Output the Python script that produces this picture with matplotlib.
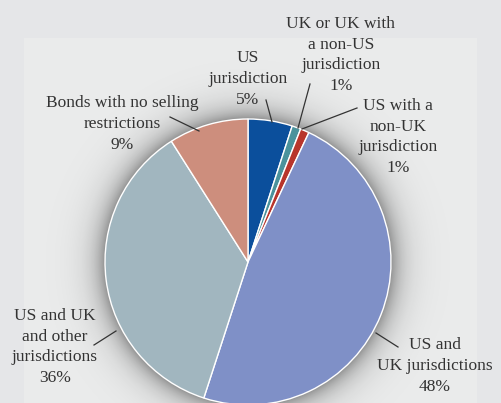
import matplotlib.pyplot as plt
import numpy as np
from matplotlib.patches import Rectangle

# data, clockwise from 12 o'clock
categories = ["US\njurisdiction", "UK or UK with\na non-US\njurisdiction",
              "US with a\nnon-UK\njurisdiction", "US and\nUK jurisdictions",
              "US and UK\nand other\njurisdictions", "Bonds with no selling\nrestrictions"]
shares = [5, 1, 1, 48, 36, 9]
colors = ["#0b4f9c", "#4a929c", "#b8352c", "#7f90c7", "#a1b6bf", "#cd8e7d"]

# label text centres and leader line ends (pixels, y from top)
label_pos = [(248, 79), (341, 55), (398, 137), (435, 366), (55, 347), (122, 124)]
leaders = [((266, 100), (272, 122)), ((310, 84), (298, 128)), ((357, 108), (302, 129)),
           ((398, 347), (376, 333)), ((94, 345), (116, 331)), ((170, 117), (199, 131))]

W, H = 501, 403
cx, cy, r = 248, 262, 143

fig = plt.figure(figsize=(W / 100, H / 100), dpi=100)
fig.patch.set_facecolor("#e5e6e8")
ax = fig.add_axes([0, 0, 1, 1])

ax.add_patch(Rectangle((24, 0), 453, H - 38, facecolor="#eaebeb", edgecolor="none", zorder=0))

# soft shadow around the pie
yy, xx = np.mgrid[0:H, 0:W]
d = np.hypot(xx + 0.5 - cx, yy + 0.5 - cy)
a = np.where(d > r - 2, 0.38 * np.exp(-np.clip(d - r, 0, None) / 13.0), 0)
shadow = np.zeros((H, W, 4))
shadow[..., 3] = a
ax.imshow(shadow, extent=(0, W, 0, H), origin="upper", zorder=1, interpolation="bilinear")

wedges, _ = ax.pie(shares, colors=colors, startangle=90, counterclock=False,
                   center=(cx, H - cy), radius=r, frame=True,
                   wedgeprops=dict(edgecolor="white", linewidth=1.0))
for w in wedges:
    w.set_zorder(2)

for (tx, ty), lab, s in zip(label_pos, categories, shares):
    ax.text(tx, H - ty, f"{lab}\n{s}%", ha="center", va="center", fontsize=12.5,
            family="Liberation Serif", color="#333333", linespacing=1.38, zorder=4)

for (p0, p1) in leaders:
    ax.plot([p0[0], p1[0]], [H - p0[1], H - p1[1]], color="#333333", lw=0.9, zorder=3)

ax.set_xlim(0, W)
ax.set_ylim(0, H)
ax.set_aspect("auto")
ax.axis("off")

fig.savefig("out.png", dpi=100, facecolor=fig.get_facecolor())
